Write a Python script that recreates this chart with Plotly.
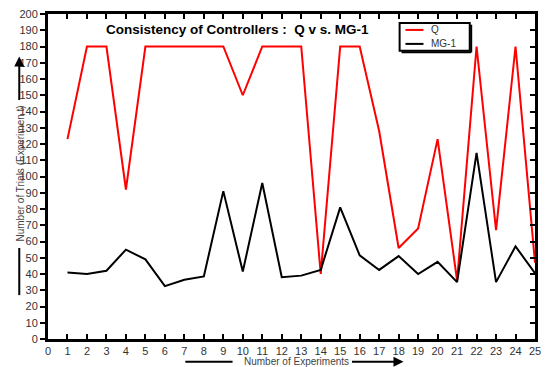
import plotly.graph_objects as go

experiments = list(range(1, 26))
q_values = [123, 180, 180, 92, 180, 180, 180, 180, 180, 150, 180, 180, 180, 40, 180, 180, 128, 56, 68, 123, 36, 180, 67, 180, 47]
mg1_values = [41, 40, 42, 55, 49, 32.5, 36.5, 38.5, 91, 41.5, 96, 38, 39, 42.5, 81, 51.5, 42.5, 51, 40, 47.5, 35, 114.5, 35, 57, 40.5]
series_names = ["Q", "MG-1"]
series_colors = ["#ff0000", "#000000"]
x_ticks = list(range(0, 26))
y_ticks = list(range(0, 201, 10))

fig = go.Figure()
for name, vals, col in zip(series_names, [q_values, mg1_values], series_colors):
    fig.add_trace(go.Scatter(x=experiments, y=vals, mode="lines", name=name,
                             line=dict(color=col, width=2), showlegend=False))
# invisible trace for secondary (right/top) axes
fig.add_trace(go.Scatter(x=[0], y=[0], xaxis="x2", yaxis="y2", mode="markers",
                         marker=dict(opacity=0), showlegend=False, hoverinfo="skip"))

font_ticks = dict(family="Liberation Sans, Arial", size=11, color="#333333")

fig.update_layout(
    width=549, height=367,
    margin=dict(l=48, r=8, t=10, b=28),
    paper_bgcolor="white", plot_bgcolor="white",
    xaxis=dict(range=[0, 25], tickvals=x_ticks, ticks="inside", ticklen=5, tickwidth=2,
               tickcolor="black", showline=True, linecolor="black", linewidth=3,
               mirror="ticks", showgrid=False, zeroline=False, tickfont=font_ticks),
    yaxis=dict(range=[0, 200], tickvals=y_ticks, ticks="outside", ticklen=5, tickwidth=2,
               tickcolor="black", showline=True, linecolor="black", linewidth=3,
               mirror=True, showgrid=False, zeroline=False, tickfont=font_ticks),
    xaxis2=dict(range=[0, 25], overlaying="x", side="top", showticklabels=False,
                showgrid=False, zeroline=False, ticks="", showline=False),
    yaxis2=dict(range=[0, 200], overlaying="y", side="right", tickvals=y_ticks,
                ticks="inside", ticklen=5, tickwidth=2, tickcolor="black",
                showticklabels=False, showgrid=False, zeroline=False, showline=False),
)

fig.add_annotation(text="<b>Consistency of Controllers :  Q v s. MG-1</b>",
                   xref="paper", yref="paper", x=0.39, y=0.952, showarrow=False,
                   xanchor="center", yanchor="middle",
                   font=dict(family="Liberation Sans, Arial", size=13.5, color="black"))

# manual legend box
fig.add_shape(type="rect", xref="paper", yref="paper", x0=0.722, x1=0.866,
              y0=0.887, y1=0.972, line=dict(color="black", width=2), fillcolor="white",
              layer="above")
fig.add_shape(type="line", xref="paper", yref="paper", x0=0.726, x1=0.869,
              y0=0.882, y1=0.882, line=dict(color="black", width=2))
fig.add_shape(type="line", xref="paper", yref="paper", x0=0.869, x1=0.869,
              y0=0.882, y1=0.967, line=dict(color="black", width=2))
legend_rows_y = [0.951, 0.908]
for name, col, yy in zip(series_names, series_colors, legend_rows_y):
    fig.add_shape(type="line", xref="paper", yref="paper", x0=0.734, x1=0.771,
                  y0=yy, y1=yy, line=dict(color=col, width=2), layer="above")
    fig.add_annotation(text=name, xref="paper", yref="paper", x=0.783, y=yy,
                       xanchor="left", yanchor="middle", showarrow=False,
                       font=dict(family="Liberation Sans, Arial", size=10, color="#333333"))

# y axis label with line and arrow
fig.add_annotation(text="Number of Trials (Experimen t)", xref="paper", yref="paper",
                   x=-0.057, y=0.51, textangle=-90, showarrow=False,
                   font=dict(family="Liberation Sans, Arial", size=10, color="#444444"),
                   xanchor="center", yanchor="middle")
fig.add_shape(type="line", xref="paper", yref="paper", x0=-0.059, x1=-0.059,
              y0=0.135, y1=0.28, line=dict(color="black", width=2))
fig.add_annotation(xref="paper", yref="paper", x=-0.059, y=0.869, ax=0, ay=45,
                   text="", showarrow=True, arrowhead=2, arrowsize=1, arrowwidth=2,
                   arrowcolor="black")

# x axis label with line and arrow
fig.add_annotation(text="Number of Experiments", xref="paper", yref="paper",
                   x=0.511, y=-0.070, showarrow=False, yanchor="middle",
                   font=dict(family="Liberation Sans, Arial", size=10, color="#444444"))
fig.add_shape(type="line", xref="paper", yref="paper", x0=0.282, x1=0.379,
              y0=-0.070, y1=-0.070, line=dict(color="black", width=2))
fig.add_annotation(xref="paper", yref="paper", x=0.73, y=-0.070, ax=-53, ay=0,
                   text="", showarrow=True, arrowhead=2, arrowsize=1, arrowwidth=2,
                   arrowcolor="black")

fig.write_html("out.html", config={"displayModeBar": False},
               post_script="document.body.style.margin='0';document.body.style.overflow='hidden';")
